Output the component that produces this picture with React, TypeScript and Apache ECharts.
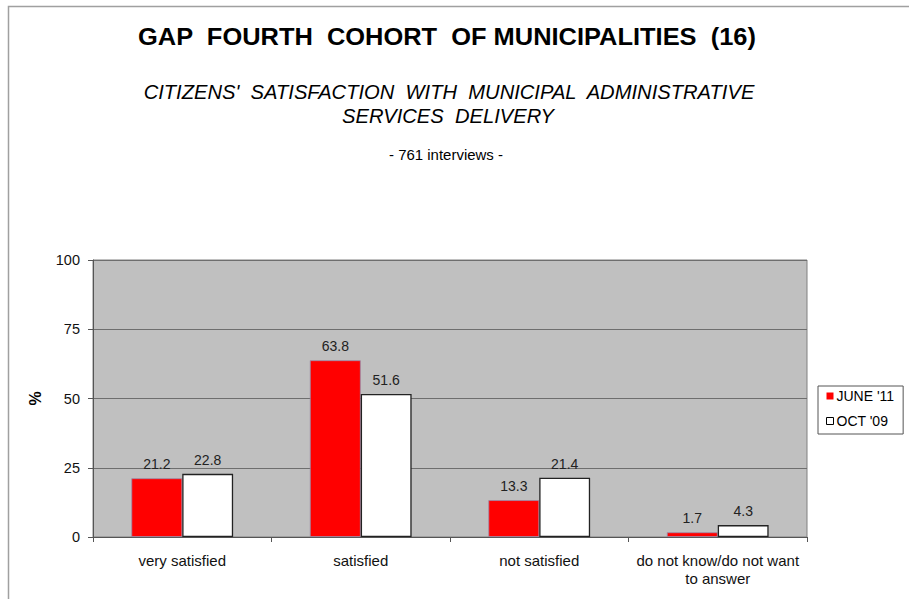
import React, { useEffect, useRef } from "react";
import * as echarts from "echarts";

const categories = [
  "very satisfied",
  "satisfied",
  "not satisfied",
  "do not know/do not want\nto answer",
];
const june11 = [21.2, 63.8, 13.3, 1.7];
const oct09 = [22.8, 51.6, 21.4, 4.3];
const seriesNames = ["JUNE '11", "OCT '09"];
const yTicks = { min: 0, max: 100, interval: 25 };

const FONT = "'Liberation Sans', Arial, sans-serif";

export default function App() {
  const ref = useRef<HTMLDivElement>(null);
  useEffect(() => {
    if (!ref.current) return;
    const chart = echarts.init(ref.current, undefined, { renderer: "svg" });
    const labelOpt = {
      show: true,
      position: "top",
      distance: 7,
      fontSize: 14,
      color: "#222",
      fontFamily: FONT,
      formatter: (p: any) => p.value.toFixed(1),
    };
    chart.setOption({
      animation: false,
      backgroundColor: "#ffffff",
      textStyle: { fontFamily: FONT },
      graphic: [
        {
          type: "rect",
          shape: { x: 8.5, y: 6.5, width: 1000, height: 1000 },
          style: { fill: "none", stroke: "#a0a0a0", lineWidth: 1.5 },
          silent: true,
        },
        {
          type: "text",
          x: 447,
          y: 37,
          scaleX: 1.06,
          style: {
            text: "GAP  FOURTH  COHORT  OF MUNICIPALITIES  (16)",
            font: `bold 24px ${FONT}`,
            fill: "#000",
            align: "center",
            verticalAlign: "middle",
          },
        },
        {
          type: "text",
          x: 449,
          y: 92,
          scaleX: 1.035,
          style: {
            text: "CITIZENS'  SATISFACTION  WITH  MUNICIPAL  ADMINISTRATIVE",
            font: `italic 19.5px ${FONT}`,
            fill: "#000",
            align: "center",
            verticalAlign: "middle",
          },
        },
        {
          type: "text",
          x: 448,
          y: 116,
          scaleX: 1.035,
          style: {
            text: "SERVICES  DELIVERY",
            font: `italic 19.5px ${FONT}`,
            fill: "#000",
            align: "center",
            verticalAlign: "middle",
          },
        },
        {
          type: "text",
          x: 446,
          y: 155,
          scaleX: 1.07,
          style: {
            text: "- 761 interviews -",
            font: `14px ${FONT}`,
            fill: "#000",
            align: "center",
            verticalAlign: "middle",
          },
        },
      ],
      legend: {
        orient: "vertical",
        left: 818,
        top: 386,
        padding: [3, 9, 6, 8],
        itemGap: 11,
        itemWidth: 7,
        itemHeight: 7,
        backgroundColor: "#ffffff",
        borderColor: "#555",
        borderWidth: 1,
        borderRadius: 0,
        textStyle: { fontSize: 14, color: "#000", fontFamily: FONT, padding: [0, 0, 0, -2] },
        data: [
          { name: seriesNames[0], icon: "rect", itemStyle: { color: "#ff0000", borderWidth: 0 } },
          { name: seriesNames[1], icon: "rect", itemStyle: { color: "#ffffff", borderColor: "#000", borderWidth: 1 } },
        ],
      },
      grid: {
        left: 93,
        top: 260,
        width: 714,
        height: 277,
        show: true,
        backgroundColor: "#c0c0c0",
        borderColor: "#808080",
        borderWidth: 1,
        containLabel: false,
      },
      xAxis: {
        type: "category",
        data: categories,
        axisLine: { show: true, lineStyle: { color: "#555", width: 1 } },
        axisTick: { show: true, length: 5, lineStyle: { color: "#555" } },
        axisLabel: {
          interval: 0,
          fontSize: 15,
          color: "#111",
          margin: 14,
          lineHeight: 18,
          fontFamily: FONT,
        },
      },
      yAxis: {
        type: "value",
        min: yTicks.min,
        max: yTicks.max,
        interval: yTicks.interval,
        name: "%",
        nameLocation: "middle",
        nameGap: 50,
        nameRotate: 90,
        nameTextStyle: { fontSize: 16, fontWeight: "bold", color: "#000", fontFamily: FONT },
        axisLine: { show: true, lineStyle: { color: "#555", width: 1 } },
        axisTick: { show: true, length: 5, lineStyle: { color: "#555" } },
        axisLabel: { fontSize: 14.5, color: "#111", margin: 13, fontFamily: FONT },
        splitLine: { show: true, lineStyle: { color: "#6e6e6e", width: 1 } },
      },
      series: [
        {
          name: seriesNames[0],
          type: "bar",
          data: june11,
          barGap: "0%",
          barCategoryGap: "43%",
          itemStyle: { color: "#ff0000", borderColor: "#9a8aa8", borderWidth: 0.8 },
          label: labelOpt,
        },
        {
          name: seriesNames[1],
          type: "bar",
          data: oct09,
          itemStyle: { color: "#ffffff", borderColor: "#222", borderWidth: 1.3 },
          label: labelOpt,
        },
      ],
    });
    return () => chart.dispose();
  }, []);
  return (
    <div
      ref={ref}
      style={{ position: "fixed", left: 0, top: 0, width: 909, height: 599 }}
    />
  );
}
